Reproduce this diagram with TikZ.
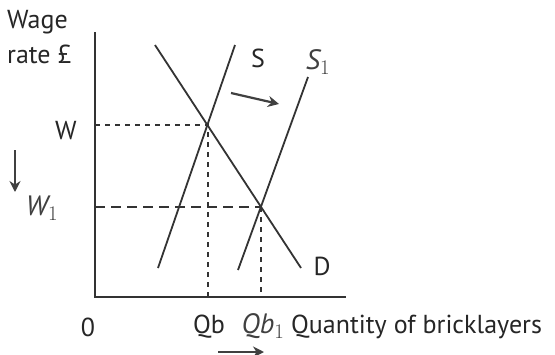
\documentclass[tikz,border=0pt]{standalone}
\usepackage{fontspec}
\setmainfont{PT Sans}
\usetikzlibrary{arrows.meta}
\begin{document}
\begin{tikzpicture}[x=1pt,y=-1pt,
  curve/.style={draw=black!80,line width=1.8pt},
  axis/.style={draw=black!80,line width=1.6pt},
  guide/.style={draw=black!80,line width=1.1pt,dash pattern=on 5pt off 5pt},
  lbl/.style={text=black!85,font=\fontsize{26}{28}\selectfont,inner sep=0pt},
  hand/.style={text=black!75,font=\fontsize{28}{30}\selectfont\itshape,inner sep=0pt},
  arr/.style={draw=black!75,line width=2.2pt,-{Stealth[length=11pt,width=11pt]}}]
\useasboundingbox (0,0) rectangle (555,354);
\fill[white] (0,0) rectangle (555,354);
% axes
\coordinate (O) at (95,297);
\coordinate (ytop) at (95,32);
\coordinate (xend) at (346,297);
\draw[axis] (ytop) -- (O) -- (xend);
% curves
\coordinate (Sa) at (158,268); \coordinate (Sb) at (235,45);
\coordinate (Da) at (155,45); \coordinate (Db) at (301,268);
\coordinate (S1a) at (238,270); \coordinate (S1b) at (308,77);
\draw[curve] (Sa) -- (Sb);
\draw[curve] (Da) -- (Db);
\draw[curve] (S1a) -- (S1b);
% equilibria
\coordinate (E) at (208,125);
\coordinate (E1) at (261,207);
\coordinate (Wy) at (95,125); \coordinate (W1y) at (95,207);
\coordinate (Qx) at (208,297); \coordinate (Q1x) at (261,297);
\draw[guide] (Wy) -- (E) -- (Qx);
\draw[guide,dash pattern=on 10pt off 6pt] (W1y) -- (E1);
\draw[guide] (E1) -- (Q1x);
% labels
\node[lbl,anchor=west] (wage) at (7,22) {Wage};
\node[lbl,anchor=west] (rate) at (7,54) {rate £};
\node[lbl] (W) at (66,131) {W};
\node[hand] (W1) at (42,208) {W$_{1}$};
\node[lbl] (S) at (258,58) {S};
\node[hand] (S1) at (318,62) {S$_{1}$};
\node[lbl] (D) at (322,266) {D};
\node[lbl] (zero) at (88,327) {0};
\node[lbl] (Qb) at (209,327) {Qb};
\node[hand] (Qb1) at (263,326) {Qb$_{1}$};
\node[lbl,anchor=west] (qty) at (291,327) {Quantity of bricklayers};
% shift arrows
\coordinate (a1) at (231,93); \coordinate (a2) at (279,104);
\draw[arr] (a1) -- (a2);
\coordinate (d1) at (15,150); \coordinate (d2) at (15,192);
\draw[arr,line width=1.8pt] (d1) -- (d2);
\coordinate (b1) at (218,352); \coordinate (b2) at (264,352);
\draw[arr] (b1) -- (b2);
\end{tikzpicture}
\end{document}
